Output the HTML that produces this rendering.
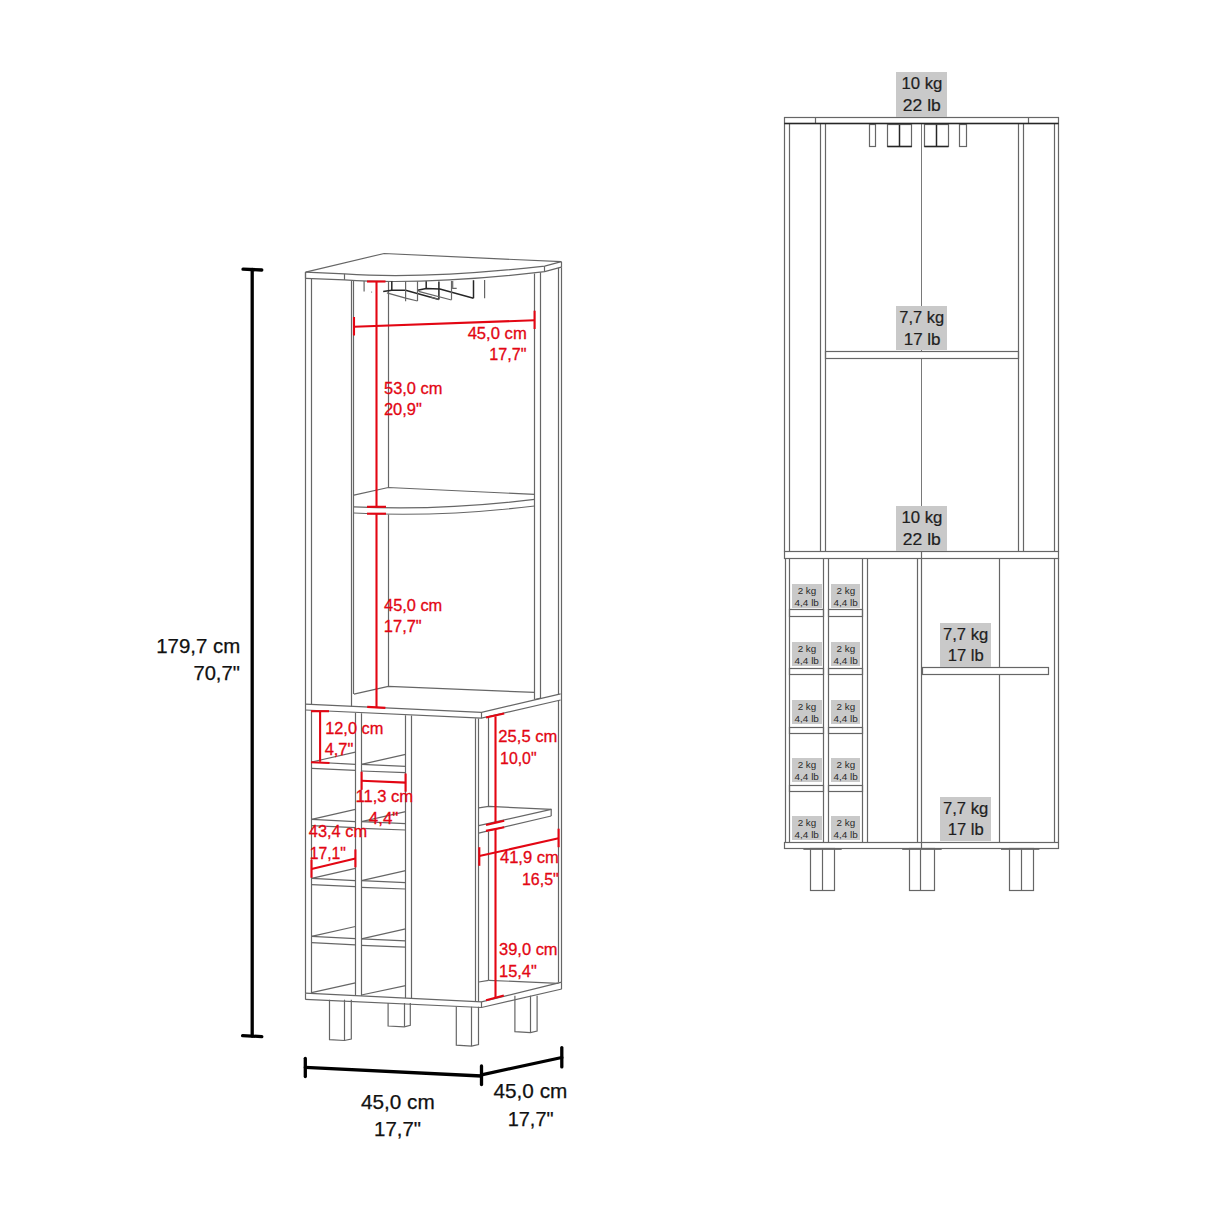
<!DOCTYPE html>
<html><head><meta charset="utf-8"><style>
html,body{margin:0;padding:0;background:#fff;width:1214px;height:1214px;overflow:hidden}
svg{display:block}
.d{fill:none;stroke:#666;stroke-width:1.2}
.r2{fill:none;stroke:#262626;stroke-width:1.5}
.thin{fill:none;stroke:#6a6a6a;stroke-width:0.9}
.red{fill:none;stroke:#e30613;stroke-width:2.1}
.blk{fill:none;stroke:#000;stroke-width:3.3;stroke-linecap:round}
.gb{fill:#c9c9c9;stroke:none}
text{font-family:"Liberation Sans",sans-serif}
.bt{font-size:20.6px;fill:#111;stroke:#111;stroke-width:0.25}
.rt{font-size:16.6px;fill:#e30613;stroke:#e30613;stroke-width:0.3}
.gt{font-size:16px;fill:#1e1e1e;stroke:#1e1e1e;stroke-width:0.2}
.gts{font-size:9.6px;fill:#2a2a2a}
</style></head><body>
<svg width="1214" height="1214" viewBox="0 0 1214 1214">
<polyline class="d" points="305.6,272.1 384.1,253.5 561.3,261.7"/>
<path class="d" d="M305.6,272.1 L344.5,273.9 Q425,279.5 544.7,266.1 L561.3,261.7"/>
<path class="d" d="M305.6,278.4 L344.5,279.9 Q425,285.5 544.7,271.7 L561.3,267.2"/>
<line class="d" x1="305.5" y1="272.1" x2="305.5" y2="278.4"/>
<line class="d" x1="344.5" y1="273.9" x2="344.5" y2="279.9"/>
<line class="d" x1="544.5" y1="266.1" x2="544.5" y2="271.7"/>
<line class="d" x1="561.5" y1="261.7" x2="561.5" y2="267.2"/>
<line class="d" x1="305.5" y1="272.1" x2="305.5" y2="993.2"/>
<line class="d" x1="311.5" y1="278.6" x2="311.5" y2="704.9"/>
<line class="d" x1="351.5" y1="280.5" x2="351.5" y2="706.8"/>
<line class="d" x1="353.5" y1="280.6" x2="353.5" y2="693.9"/>
<line class="d" x1="388.5" y1="281.2" x2="388.5" y2="487.5"/>
<line class="d" x1="388.5" y1="514.5" x2="388.5" y2="686.5"/>
<line class="d" x1="534.5" y1="273.5" x2="534.5" y2="699.5"/>
<line class="d" x1="540.5" y1="272.3" x2="540.5" y2="698.5"/>
<line class="d" x1="534.6" y1="699.5" x2="540.7" y2="698.2"/>
<line class="d" x1="558.5" y1="267.7" x2="558.5" y2="694.3"/>
<line class="d" x1="561.5" y1="267.2" x2="561.5" y2="982.2"/>
<polyline class="d" points="353.9,495.2 388.3,487.5 534.6,494.4"/>
<path class="d" d="M353.9,506.8 Q440,511 534.6,499.4"/>
<path class="d" d="M353.9,513 Q440,517.5 534.6,506"/>
<polyline class="d" points="353.9,694.2 388.3,686.4 534.6,692.4"/>
<polyline class="d" points="305.4,704.1 481.5,712.4 560.6,693.9"/>
<polyline class="d" points="305.4,710 481.5,718.2 560.6,700"/>
<line class="d" x1="481.5" y1="712.4" x2="481.5" y2="718.2"/>
<line class="d" x1="311.5" y1="710.7" x2="311.5" y2="993.5"/>
<line class="d" x1="355.5" y1="713" x2="355.5" y2="995.5"/>
<line class="d" x1="361.5" y1="713.3" x2="361.5" y2="995.8"/>
<line class="d" x1="405.5" y1="715.3" x2="405.5" y2="998"/>
<line class="d" x1="411.5" y1="715.6" x2="411.5" y2="998.3"/>
<line class="d" x1="475.5" y1="718.3" x2="475.5" y2="1001.6"/>
<line class="d" x1="478.5" y1="718.4" x2="478.5" y2="1001.8"/>
<line class="d" x1="488.5" y1="716.6" x2="488.5" y2="806.4"/>
<line class="d" x1="488.5" y1="831.7" x2="488.5" y2="980.3"/>
<line class="d" x1="558.5" y1="700.5" x2="558.5" y2="982.5"/>
<line class="d" x1="311.6" y1="762" x2="355.4" y2="752.1"/>
<line class="d" x1="311.6" y1="762" x2="355.4" y2="764.3"/>
<line class="d" x1="311.6" y1="768.3" x2="355.4" y2="770.4"/>
<line class="d" x1="361.4" y1="764.4" x2="405.6" y2="754.4"/>
<line class="d" x1="361.4" y1="764.4" x2="405.6" y2="766.4"/>
<line class="d" x1="361.4" y1="771.0" x2="405.6" y2="772.6999999999999"/>
<line class="d" x1="311.6" y1="819.3" x2="355.4" y2="809.4"/>
<line class="d" x1="311.6" y1="819.3" x2="355.4" y2="821.5999999999999"/>
<line class="d" x1="311.6" y1="825.5999999999999" x2="355.4" y2="827.6999999999999"/>
<line class="d" x1="361.4" y1="821.6999999999999" x2="405.6" y2="811.6999999999999"/>
<line class="d" x1="361.4" y1="821.6999999999999" x2="405.6" y2="823.6999999999999"/>
<line class="d" x1="361.4" y1="828.3" x2="405.6" y2="829.9999999999999"/>
<line class="d" x1="311.6" y1="878.3" x2="355.4" y2="868.4"/>
<line class="d" x1="311.6" y1="878.3" x2="355.4" y2="880.5999999999999"/>
<line class="d" x1="311.6" y1="884.5999999999999" x2="355.4" y2="886.6999999999999"/>
<line class="d" x1="361.4" y1="880.6999999999999" x2="405.6" y2="870.6999999999999"/>
<line class="d" x1="361.4" y1="880.6999999999999" x2="405.6" y2="882.6999999999999"/>
<line class="d" x1="361.4" y1="887.3" x2="405.6" y2="888.9999999999999"/>
<line class="d" x1="311.6" y1="936.4" x2="355.4" y2="926.5"/>
<line class="d" x1="311.6" y1="936.4" x2="355.4" y2="938.6999999999999"/>
<line class="d" x1="311.6" y1="942.6999999999999" x2="355.4" y2="944.8"/>
<line class="d" x1="361.4" y1="938.8" x2="405.6" y2="928.8"/>
<line class="d" x1="361.4" y1="938.8" x2="405.6" y2="940.8"/>
<line class="d" x1="361.4" y1="945.4" x2="405.6" y2="947.0999999999999"/>
<line class="d" x1="311.6" y1="992.7" x2="355.4" y2="982.8"/>
<line class="d" x1="361.4" y1="995" x2="405.6" y2="985.6"/>
<line class="d" x1="478.7" y1="982" x2="488.7" y2="980.3"/>
<line class="d" x1="488.7" y1="980.3" x2="558.4" y2="983.4"/>
<polyline class="d" points="478.7,807.9 488.7,806.4 551.2,809.4 551.2,816"/>
<line class="d" x1="478.7" y1="825.7" x2="551.2" y2="809.4"/>
<line class="d" x1="478.7" y1="833.1" x2="551.2" y2="816"/>
<polyline class="d" points="305.3,993.2 481.5,1001.9 561.8,982.2"/>
<polyline class="d" points="305.3,999.4 481.5,1007.5 561.8,989"/>
<line class="d" x1="305.5" y1="993.2" x2="305.5" y2="999.4"/>
<line class="d" x1="481.5" y1="1001.9" x2="481.5" y2="1007.5"/>
<line class="d" x1="561.5" y1="982.2" x2="561.5" y2="989"/>
<polyline class="d" points="329.5,999.7 329.5,1039.6000000000001 344.4,1040.5 351.3,1039.0 351.3,999.7"/>
<line class="d" x1="344.5" y1="999.7" x2="344.5" y2="1040.5"/>
<polyline class="d" points="388.1,1003 388.1,1026.0 404.2,1026.8999999999999 410.3,1025.3999999999999 410.3,1003"/>
<line class="d" x1="404.5" y1="1003" x2="404.5" y2="1026.8999999999999"/>
<polyline class="d" points="456.3,1006.8 456.3,1045.2 471.6,1046.1 478.5,1044.6 478.5,1006.8"/>
<line class="d" x1="471.5" y1="1006.8" x2="471.5" y2="1046.1"/>
<polyline class="d" points="514.9,995.7 514.9,1031.7 530.4,1032.6 537.1,1031.1 537.1,995.7"/>
<line class="d" x1="530.5" y1="995.7" x2="530.5" y2="1032.6"/>
<path class="r2" d="M391.8,281.2 V290.3"/>
<path class="r2" d="M383.2,291.6 L391.8,290.3 H405.6 L438.9,299.5"/>
<path class="r2" d="M438.9,281.4 V299.5"/>
<path class="r2" d="M417.5,290.3 L426.2,288.6 L439.9,289.1 L473.5,298.2"/>
<path class="r2" d="M426.2,281.2 V288.6"/>
<path class="r2" d="M473.5,280.2 V298.2"/>
<path class="d" d="M364.1,281 V291.4"/>
<path class="d" d="M386.9,292.8 L405.6,298.2 L417.5,301"/>
<path class="d" d="M418.5,291.3 L451.5,300"/>
<path class="d" d="M430,296.7 L438.9,299.5"/>
<path class="d" d="M405.6,281.2 V301.2"/>
<path class="d" d="M417.5,281.2 V301"/>
<path class="d" d="M451.5,280.9 V299.8"/>
<path class="d" d="M452.7,280.9 V288.3 H456.7"/>
<path class="d" d="M484.6,279.9 V298.2"/>
<circle cx="371.6" cy="292" r="0.6" fill="#666"/>
<line class="red" x1="354" y1="326.7" x2="534.6" y2="320.3"/>
<line class="red" x1="354" y1="317" x2="354" y2="335.5"/>
<line class="red" x1="534.6" y1="310.7" x2="534.6" y2="329"/>
<line class="red" x1="376.5" y1="281.5" x2="376.5" y2="506.8"/>
<line class="red" x1="367" y1="281.5" x2="385.5" y2="281.5"/>
<line class="red" x1="367" y1="506.8" x2="386" y2="506.8"/>
<line class="red" x1="376.5" y1="513.7" x2="376.5" y2="707.4"/>
<line class="red" x1="367" y1="513.7" x2="386" y2="513.7"/>
<line class="red" x1="367.2" y1="706.9" x2="385.4" y2="707.9"/>
<line class="red" x1="320.1" y1="711.2" x2="320.1" y2="761.8"/>
<line class="red" x1="311" y1="711.2" x2="329" y2="711.2"/>
<line class="red" x1="311" y1="762.2" x2="329.5" y2="763"/>
<line class="red" x1="361.6" y1="780.8" x2="405.6" y2="782.6"/>
<line class="red" x1="361.6" y1="771.7" x2="361.6" y2="789.8"/>
<line class="red" x1="405.6" y1="773.5" x2="405.6" y2="791.7"/>
<line class="red" x1="311.5" y1="869" x2="355.4" y2="858.6"/>
<line class="red" x1="311.5" y1="859.8" x2="311.5" y2="877.7"/>
<line class="red" x1="355.4" y1="849.4" x2="355.4" y2="867.3"/>
<line class="red" x1="495.5" y1="716.3" x2="495.5" y2="822.5"/>
<line class="red" x1="486" y1="717.6" x2="504.2" y2="713.4"/>
<line class="red" x1="486" y1="825" x2="504.2" y2="820.8"/>
<line class="red" x1="495.5" y1="829" x2="495.5" y2="997"/>
<line class="red" x1="486" y1="830.9" x2="504.2" y2="827.2"/>
<line class="red" x1="486" y1="1000.2" x2="503.8" y2="995.6"/>
<line class="red" x1="479.3" y1="856.1" x2="558.6" y2="838.3"/>
<line class="red" x1="479.3" y1="847.2" x2="479.3" y2="865.8"/>
<line class="red" x1="558.6" y1="828.7" x2="558.6" y2="847.2"/>
<line class="blk" x1="252.2" y1="269.5" x2="252.2" y2="1036"/>
<line class="blk" x1="243" y1="269.2" x2="261.8" y2="270"/>
<line class="blk" x1="242.6" y1="1035.6" x2="261.8" y2="1036.6"/>
<line class="blk" x1="305.3" y1="1067.3" x2="481.5" y2="1076"/>
<line class="blk" x1="305.3" y1="1058.3" x2="305.3" y2="1076.6"/>
<line class="blk" x1="481.5" y1="1066" x2="481.5" y2="1084.6"/>
<line class="blk" x1="481.5" y1="1074.8" x2="561.8" y2="1057.5"/>
<line class="blk" x1="561.8" y1="1047.6" x2="561.8" y2="1066.9"/>
<rect class="d" x="784.5" y="117.5" width="274.0" height="6.0"/>
<line class="d" x1="815.5" y1="117.3" x2="815.5" y2="123.8"/>
<line class="d" x1="1028.5" y1="117.3" x2="1028.5" y2="123.8"/>
<line class="d" x1="784.5" y1="123.8" x2="784.5" y2="551.8"/>
<line class="d" x1="789.5" y1="123.8" x2="789.5" y2="551.8"/>
<line class="d" x1="820.5" y1="123.8" x2="820.5" y2="551.8"/>
<line class="d" x1="825.5" y1="123.8" x2="825.5" y2="551.8"/>
<line class="d" x1="1018.5" y1="123.8" x2="1018.5" y2="551.8"/>
<line class="d" x1="1023.5" y1="123.8" x2="1023.5" y2="551.8"/>
<line class="d" x1="1054.5" y1="123.8" x2="1054.5" y2="551.8"/>
<line class="d" x1="1058.5" y1="123.8" x2="1058.5" y2="551.8"/>
<line class="thin" x1="921.5" y1="123.8" x2="921.5" y2="351.6"/>
<line class="thin" x1="921.5" y1="358" x2="921.5" y2="551.8"/>
<rect class="d" x="869.5" y="124.5" width="6.0" height="22.0"/>
<rect class="d" x="887.5" y="124.5" width="24.0" height="22.0"/>
<line class="r2" x1="899.5" y1="124.7" x2="899.5" y2="146"/>
<line class="r2" x1="887.4" y1="146.5" x2="911.8" y2="146.5"/>
<rect class="d" x="924.5" y="124.5" width="24.0" height="22.0"/>
<line class="r2" x1="936.5" y1="124.7" x2="936.5" y2="146"/>
<line class="r2" x1="924.4" y1="146.5" x2="948.4" y2="146.5"/>
<rect class="d" x="959.5" y="124.5" width="7.0" height="22.0"/>
<line class="r2" x1="784.3" y1="123.5" x2="1058.6" y2="123.5"/>
<rect class="d" x="825.5" y="351.5" width="193.0" height="7.0"/>
<rect class="d" x="784.5" y="551.5" width="274.0" height="7.0"/>
<line class="d" x1="921.5" y1="551.8" x2="921.5" y2="558"/>
<line class="d" x1="785.5" y1="558" x2="785.5" y2="842.6"/>
<line class="d" x1="789.5" y1="558" x2="789.5" y2="842.6"/>
<line class="d" x1="823.5" y1="558" x2="823.5" y2="842.6"/>
<line class="d" x1="828.5" y1="558" x2="828.5" y2="842.6"/>
<line class="d" x1="862.5" y1="558" x2="862.5" y2="842.6"/>
<line class="d" x1="867.5" y1="558" x2="867.5" y2="842.6"/>
<line class="d" x1="917.5" y1="558" x2="917.5" y2="842.6"/>
<line class="d" x1="921.5" y1="558" x2="921.5" y2="842.6"/>
<line class="d" x1="999.5" y1="558" x2="999.5" y2="667.7"/>
<line class="d" x1="999.5" y1="674.4" x2="999.5" y2="842.6"/>
<line class="d" x1="1054.5" y1="558" x2="1054.5" y2="842.6"/>
<line class="d" x1="1058.5" y1="558" x2="1058.5" y2="842.6"/>
<rect class="d" x="789.5" y="609.5" width="34.0" height="7.0"/>
<rect class="d" x="828.5" y="609.5" width="34.0" height="7.0"/>
<rect class="d" x="789.5" y="668.5" width="34.0" height="6.0"/>
<rect class="d" x="828.5" y="668.5" width="34.0" height="6.0"/>
<rect class="d" x="789.5" y="727.5" width="34.0" height="6.0"/>
<rect class="d" x="828.5" y="727.5" width="34.0" height="6.0"/>
<rect class="d" x="789.5" y="785.5" width="34.0" height="6.0"/>
<rect class="d" x="828.5" y="785.5" width="34.0" height="6.0"/>
<rect class="d" x="922.5" y="667.5" width="126.0" height="7.0"/>
<rect class="d" x="784.5" y="842.5" width="274.0" height="6.0"/>
<line class="d" x1="921.5" y1="842.6" x2="921.5" y2="848.8"/>
<rect class="d" x="810.5" y="848.5" width="24.0" height="42.0"/>
<line class="d" x1="822.5" y1="848.9" x2="822.5" y2="890.7"/>
<line class="thin" x1="803.4" y1="849.5" x2="841.7" y2="849.5"/>
<rect class="d" x="909.5" y="848.5" width="25.0" height="42.0"/>
<line class="d" x1="920.5" y1="848.9" x2="920.5" y2="890.7"/>
<line class="thin" x1="902.2" y1="849.5" x2="941.7" y2="849.5"/>
<rect class="d" x="1009.5" y="848.5" width="24.0" height="42.0"/>
<line class="d" x1="1021.5" y1="848.9" x2="1021.5" y2="890.7"/>
<line class="thin" x1="1001" y1="849.5" x2="1039.4" y2="849.5"/>
<text class="bt" x="156.25" y="653.0" textLength="84.09" lengthAdjust="spacingAndGlyphs">179,7 cm</text>
<text class="bt" x="193.45" y="679.6" textLength="46.42" lengthAdjust="spacingAndGlyphs">70,7&quot;</text>
<text class="bt" x="360.94" y="1109.4" textLength="73.81" lengthAdjust="spacingAndGlyphs">45,0 cm</text>
<text class="bt" x="374.05" y="1136.3" textLength="46.93" lengthAdjust="spacingAndGlyphs">17,7&quot;</text>
<text class="bt" x="493.54" y="1098.4" textLength="73.81" lengthAdjust="spacingAndGlyphs">45,0 cm</text>
<text class="bt" x="507.68" y="1125.5" textLength="45.88" lengthAdjust="spacingAndGlyphs">17,7&quot;</text>
<text class="rt" x="467.63" y="339.0" textLength="59.15" lengthAdjust="spacingAndGlyphs">45,0 cm</text>
<text class="rt" x="489.17" y="360.4" textLength="37.23" lengthAdjust="spacingAndGlyphs">17,7&quot;</text>
<text class="rt" x="384.04" y="393.65" textLength="58.43" lengthAdjust="spacingAndGlyphs">53,0 cm</text>
<text class="rt" x="383.88" y="415.3" textLength="37.94" lengthAdjust="spacingAndGlyphs">20,9&quot;</text>
<text class="rt" x="384.04" y="610.6" textLength="58.23" lengthAdjust="spacingAndGlyphs">45,0 cm</text>
<text class="rt" x="383.85" y="632.3" textLength="37.86" lengthAdjust="spacingAndGlyphs">17,7&quot;</text>
<text class="rt" x="325.15" y="734.0" textLength="58.31" lengthAdjust="spacingAndGlyphs">12,0 cm</text>
<text class="rt" x="324.64" y="754.7" textLength="28.77" lengthAdjust="spacingAndGlyphs">4,7&quot;</text>
<text class="rt" x="355.44" y="802.2" textLength="57.74" lengthAdjust="spacingAndGlyphs">11,3 cm</text>
<text class="rt" x="368.83" y="824.0" textLength="29.5" lengthAdjust="spacingAndGlyphs">4,4&quot;</text>
<text class="rt" x="308.84" y="836.5" textLength="58.23" lengthAdjust="spacingAndGlyphs">43,4 cm</text>
<text class="rt" x="309.7" y="858.6" textLength="36.28" lengthAdjust="spacingAndGlyphs">17,1&quot;</text>
<text class="rt" x="498.37" y="741.8" textLength="59.01" lengthAdjust="spacingAndGlyphs">25,5 cm</text>
<text class="rt" x="500.09" y="763.7" textLength="36.49" lengthAdjust="spacingAndGlyphs">10,0&quot;</text>
<text class="rt" x="499.94" y="863.2" textLength="58.94" lengthAdjust="spacingAndGlyphs">41,9 cm</text>
<text class="rt" x="521.99" y="885.1" textLength="36.7" lengthAdjust="spacingAndGlyphs">16,5&quot;</text>
<text class="rt" x="499.08" y="954.8" textLength="58.5" lengthAdjust="spacingAndGlyphs">39,0 cm</text>
<text class="rt" x="499.05" y="976.5" textLength="37.76" lengthAdjust="spacingAndGlyphs">15,4&quot;</text>
<rect class="gb" x="896" y="72" width="51" height="45"/>
<text class="gt" x="901.43" y="88.7" textLength="40.95" lengthAdjust="spacingAndGlyphs">10 kg</text>
<text class="gt" x="902.83" y="110.7" textLength="37.92" lengthAdjust="spacingAndGlyphs">22 lb</text>
<rect class="gb" x="896" y="506" width="51" height="45"/>
<text class="gt" x="901.43" y="522.8" textLength="40.95" lengthAdjust="spacingAndGlyphs">10 kg</text>
<text class="gt" x="902.83" y="544.8" textLength="37.92" lengthAdjust="spacingAndGlyphs">22 lb</text>
<rect class="gb" x="896" y="306" width="51" height="44"/>
<text class="gt" x="899.24" y="323.1" textLength="44.81" lengthAdjust="spacingAndGlyphs">7,7 kg</text>
<text class="gt" x="903.71" y="344.6" textLength="36.81" lengthAdjust="spacingAndGlyphs">17 lb</text>
<rect class="gb" x="940" y="623" width="51" height="44"/>
<text class="gt" x="942.94" y="639.8" textLength="45.23" lengthAdjust="spacingAndGlyphs">7,7 kg</text>
<text class="gt" x="947.74" y="661.0999999999999" textLength="36.07" lengthAdjust="spacingAndGlyphs">17 lb</text>
<rect class="gb" x="940" y="797" width="51" height="44"/>
<text class="gt" x="942.94" y="813.9" textLength="45.23" lengthAdjust="spacingAndGlyphs">7,7 kg</text>
<text class="gt" x="947.74" y="835.1999999999999" textLength="36.07" lengthAdjust="spacingAndGlyphs">17 lb</text>
<rect class="gb" x="792" y="584" width="30" height="24"/>
<text class="gts" x="797.71" y="593.5" textLength="18.52" lengthAdjust="spacingAndGlyphs">2 kg</text>
<text class="gts" x="794.58" y="605.8" textLength="24.34" lengthAdjust="spacingAndGlyphs">4,4 lb</text>
<rect class="gb" x="831" y="584" width="29" height="24"/>
<text class="gts" x="836.61" y="593.5" textLength="18.52" lengthAdjust="spacingAndGlyphs">2 kg</text>
<text class="gts" x="833.48" y="605.8" textLength="24.34" lengthAdjust="spacingAndGlyphs">4,4 lb</text>
<rect class="gb" x="792" y="642" width="30" height="24"/>
<text class="gts" x="797.71" y="651.5" textLength="18.52" lengthAdjust="spacingAndGlyphs">2 kg</text>
<text class="gts" x="794.58" y="663.8" textLength="24.34" lengthAdjust="spacingAndGlyphs">4,4 lb</text>
<rect class="gb" x="831" y="642" width="29" height="24"/>
<text class="gts" x="836.61" y="651.5" textLength="18.52" lengthAdjust="spacingAndGlyphs">2 kg</text>
<text class="gts" x="833.48" y="663.8" textLength="24.34" lengthAdjust="spacingAndGlyphs">4,4 lb</text>
<rect class="gb" x="792" y="700" width="30" height="24"/>
<text class="gts" x="797.71" y="709.5" textLength="18.52" lengthAdjust="spacingAndGlyphs">2 kg</text>
<text class="gts" x="794.58" y="721.8" textLength="24.34" lengthAdjust="spacingAndGlyphs">4,4 lb</text>
<rect class="gb" x="831" y="700" width="29" height="24"/>
<text class="gts" x="836.61" y="709.5" textLength="18.52" lengthAdjust="spacingAndGlyphs">2 kg</text>
<text class="gts" x="833.48" y="721.8" textLength="24.34" lengthAdjust="spacingAndGlyphs">4,4 lb</text>
<rect class="gb" x="792" y="758" width="30" height="24"/>
<text class="gts" x="797.71" y="767.5" textLength="18.52" lengthAdjust="spacingAndGlyphs">2 kg</text>
<text class="gts" x="794.58" y="779.8" textLength="24.34" lengthAdjust="spacingAndGlyphs">4,4 lb</text>
<rect class="gb" x="831" y="758" width="29" height="24"/>
<text class="gts" x="836.61" y="767.5" textLength="18.52" lengthAdjust="spacingAndGlyphs">2 kg</text>
<text class="gts" x="833.48" y="779.8" textLength="24.34" lengthAdjust="spacingAndGlyphs">4,4 lb</text>
<rect class="gb" x="792" y="816" width="30" height="24"/>
<text class="gts" x="797.71" y="825.6" textLength="18.52" lengthAdjust="spacingAndGlyphs">2 kg</text>
<text class="gts" x="794.58" y="837.9" textLength="24.34" lengthAdjust="spacingAndGlyphs">4,4 lb</text>
<rect class="gb" x="831" y="816" width="29" height="24"/>
<text class="gts" x="836.61" y="825.6" textLength="18.52" lengthAdjust="spacingAndGlyphs">2 kg</text>
<text class="gts" x="833.48" y="837.9" textLength="24.34" lengthAdjust="spacingAndGlyphs">4,4 lb</text>
</svg>
</body></html>
